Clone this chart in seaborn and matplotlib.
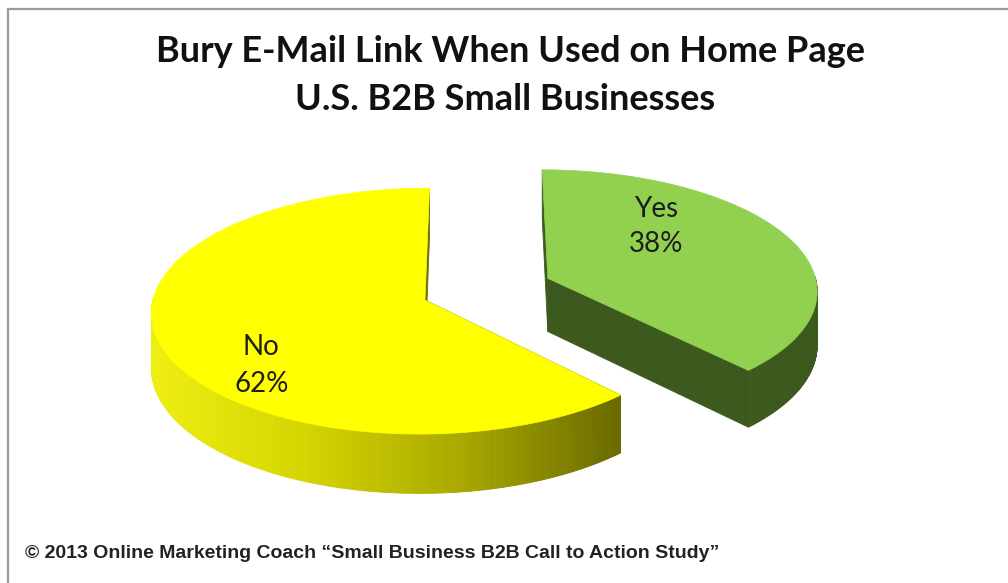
import numpy as np
import matplotlib
matplotlib.use("Agg")
import matplotlib.pyplot as plt
from matplotlib.patches import Polygon
from matplotlib.colors import LinearSegmentedColormap
import seaborn as sns

# ---- data -------------------------------------------------------------
labels = ["Yes", "No"]
shares = [38, 62]                      # percent
explode = [0.49, 0.0]                  # radial pull-out, in pie radii
top_colors = ["#92D050", "#FFFF00"]
side_colors = ["#3D5A1E", "#6E6E00"]
wall_gradient = {"No": ["#EEEE12", "#D4D400", "#A8A800", "#6A6A00"]}
title_lines = ["Bury E-Mail Link When Used on Home Page",
               "U.S. B2B Small Businesses"]
footer = "\u00a9 2013 Online Marketing Coach \u201cSmall Business B2B Call to Action Study\u201d"

# ---- layout of the tilted pie (figure pixels) ---------------------------
CX, CY = 425, 300      # pie centre on screen
RX, RY = 272, 122      # ellipse radii
DEPTH = 54             # wall height
PERSP = 0.09           # far side shrink
UC = 0.2               # horizontal eye position, in pie radii
START = 90.0           # first slice starts at 12 o'clock, clockwise
label_offsets = {"Yes": (0.43, 0.46), "No": (-0.565, -0.51)}
label_gap = {"Yes": 17.5, "No": 18.5}

sns.set_theme(style="white")
plt.rcParams["font.family"] = ["Lato", "DejaVu Sans"]

fig = plt.figure(figsize=(10.08, 5.83), dpi=100)
ax = fig.add_axes([0, 0, 1, 1])
ax.set_xlim(0, 1008)
ax.set_ylim(583, 0)
ax.axis("off")


def project(u, v, z):
    """Map pie-plane coords (u, v) at height z (1 = top, 0 = base) to screen."""
    u = np.asarray(u, float)
    v = np.asarray(v, float)
    s = 1.0 / (1.0 + PERSP * v)
    x = CX + RX * (UC + (u - UC) * s)
    y = CY - RY * v * s + DEPTH * (1.0 - z) * s
    return x, y


def pt(u, v, z):
    x, y = project(u, v, z)
    return float(x), float(y)


angles = []
a = START
for sh in shares:
    span = 360.0 * sh / sum(shares)
    angles.append((a, a - span))
    a -= span

# draw the unexploded (back) slice first, then the exploded one
order = sorted(range(len(shares)), key=lambda i: explode[i])
for i in order:
    name = labels[i]
    a1, a2 = angles[i]
    mid = np.radians((a1 + a2) / 2)
    u0, v0 = explode[i] * np.cos(mid), explode[i] * np.sin(mid)
    th = np.radians(np.linspace(a1, a2, 400))
    au, av = u0 + np.cos(th), v0 + np.sin(th)

    # radial faces
    for ang in (a1, a2):
        t = np.radians(ang)
        cu, cv = u0 + np.cos(t), v0 + np.sin(t)
        pts = [pt(u0, v0, 1), pt(cu, cv, 1), pt(cu, cv, 0), pt(u0, v0, 0)]
        col = side_colors[i]
        ax.add_patch(Polygon(pts, closed=True, facecolor=col,
                             edgecolor=col, lw=0.6))

    # outer wall, front-facing part only
    xt, yt = project(au, av, 1)
    xb, yb = project(au, av, 0)
    xmin, xmax = xt.min(), xt.max()
    cmap = None
    if name in wall_gradient:
        cmap = LinearSegmentedColormap.from_list("wall", wall_gradient[name])
    for k in range(len(th) - 1):
        if np.sin(th[k]) > 0.01 and np.sin(th[k + 1]) > 0.01:
            continue
        quad = [(xt[k], yt[k]), (xt[k + 1], yt[k + 1]),
                (xb[k + 1], yb[k + 1]), (xb[k], yb[k])]
        if cmap is not None:
            col = cmap(np.clip((xt[k] - xmin) / (xmax - xmin), 0, 1))
        else:
            col = side_colors[i]
        ax.add_patch(Polygon(quad, closed=True, facecolor=col,
                             edgecolor=col, lw=0.6))

    # top face
    top = [pt(u0, v0, 1)] + [(float(x), float(y)) for x, y in zip(xt, yt)]
    ax.add_patch(Polygon(top, closed=True, facecolor=top_colors[i],
                         edgecolor=top_colors[i], lw=0.5))

    # label
    du, dv = label_offsets[name]
    lx, ly = pt(u0 + du, v0 + dv, 1)
    g = label_gap[name]
    ax.text(lx, ly - g, name, ha="center", va="center",
            fontsize=20, color="#1E1E1E")
    ax.text(lx, ly + g, f"{shares[i]}%", ha="center", va="center",
            fontsize=20, color="#1E1E1E")

# titles and footer
ax.text(510, 52, title_lines[0], ha="center", va="center",
        fontsize=26, fontweight="bold", color="#111111")
ax.text(505, 100, title_lines[1], ha="center", va="center",
        fontsize=26, fontweight="bold", color="#111111")
ax.text(25, 553, footer, ha="left", va="center", fontsize=14,
        fontweight="bold", color="#222222",
        family=["Liberation Sans Narrow", "Liberation Sans", "DejaVu Sans"])

# frame
ax.plot([8, 8, 1008], [583, 9, 9], color="#9A9A9A", lw=1.6,
        solid_joinstyle="miter")

fig.savefig("out.png", dpi=100)
